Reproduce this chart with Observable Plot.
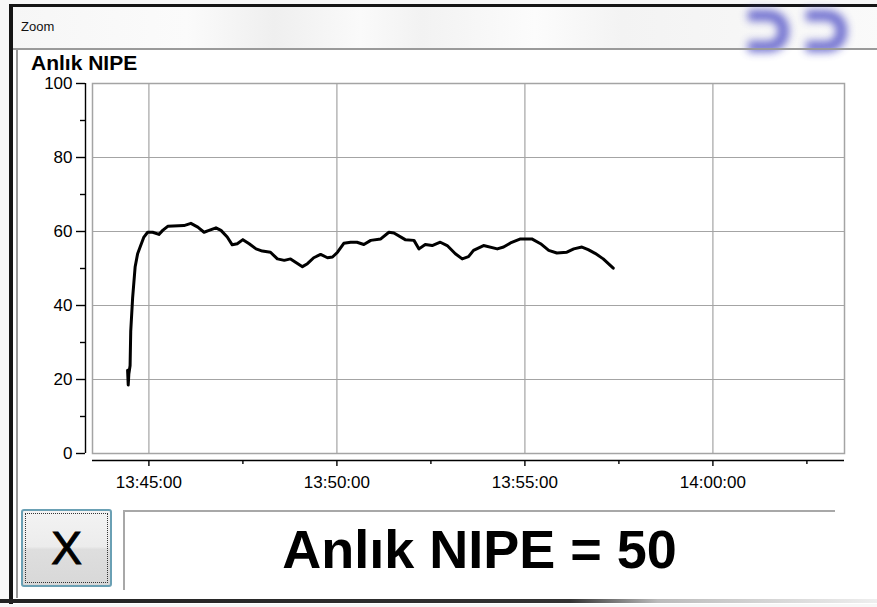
<!DOCTYPE html>
<html>
<head>
<meta charset="utf-8">
<script src="https://cdn.jsdelivr.net/npm/d3@7"></script>
<script src="https://cdn.jsdelivr.net/npm/@observablehq/plot@0.6"></script>
<style>
  html, body { margin: 0; padding: 0; }
  body { width: 877px; height: 607px; position: relative; overflow: hidden; background: #f7f7f7; font-family: Arial, "Liberation Sans", sans-serif; }
  .abs { position: absolute; }
  #win { left: 9px; top: 4px; width: 880px; height: 597px; background: #fff; border-left: 4px solid #151515; border-top: 3px solid #151515; }
  #titlebar { left: 13px; top: 7px; width: 870px; height: 41px;
    background: linear-gradient(90deg, #f6f6f6 0%, #fbfbfb 20%, #efefef 30%, #fafafa 40%, #f2f2f2 47%, #fcfcfc 60%, #f3f3f3 70%, #fafafa 100%); }
  #titleline { left: 13px; top: 48px; width: 870px; height: 2px; background: #9a9a9a; }
  #wintitle { left: 21px; top: 19px; font-size: 13px; color: #111; }
  .logo { width: 30px; height: 20px; border: 11px solid #5656c8; border-left: none; border-radius: 0 20px 20px 0; filter: blur(4px); opacity: 0.85; }
  #leftline { left: 16px; top: 50px; width: 2px; height: 548px; background: #9a9a9a; }
  #bottomline { left: 0px; top: 599px; width: 877px; height: 4px; background: linear-gradient(90deg, #222 0%, #333 65%, #bbb 75%, #eee 100%); }
  #charttitle { left: 31px; top: 52px; font-size: 21px; line-height: 21px; font-weight: bold; color: #000; }
  #btn { left: 21px; top: 509px; width: 87px; height: 74px; border: 2px solid #6aa0b4; border-radius: 3px;
    background: linear-gradient(#f3f3f3 0%, #ececec 48%, #dedede 52%, #d8d8d8 100%); }
  #btninner { left: 2px; top: 2px; right: 2px; bottom: 2px; border: 1px dotted #333; }
  #btnx { left: 0; top: 0; width: 87px; height: 74px; line-height: 74px; text-align: center; font-size: 46px; color: #000; -webkit-text-stroke: 1px #000; }
  #boxtop { left: 124px; top: 510px; width: 711px; height: 2px; background: #a8a8a8; }
  #boxleft { left: 123px; top: 510px; width: 2px; height: 80px; background: #a8a8a8; }
  #readout { left: 124px; top: 518px; width: 711px; text-align: center; font-size: 54px; font-weight: bold; color: #000; line-height: 62px; }
  #chart { left: 0; top: 60px; }
</style>
</head>
<body>
<div id="win" class="abs"></div>
<div id="titlebar" class="abs"></div>
<div class="abs logo" style="left:748px; top:10px;"></div>
<div class="abs logo" style="left:806px; top:10px;"></div>
<div id="titleline" class="abs"></div>
<div id="wintitle" class="abs">Zoom</div>
<div id="leftline" class="abs"></div>
<div id="bottomline" class="abs"></div>
<div id="charttitle" class="abs">Anlık NIPE</div>
<div id="chart" class="abs"></div>
<div id="btn" class="abs"><div id="btninner" class="abs"></div><div id="btnx" class="abs">X</div></div>
<div id="boxtop" class="abs"></div>
<div id="boxleft" class="abs"></div>
<div id="readout" class="abs">Anlık NIPE = 50</div>
<script>
// ---- data ----
const times = [
  "13:44:26","13:44:27","13:44:28","13:44:30","13:44:31","13:44:34","13:44:38","13:44:42","13:44:46","13:44:52",
  "13:44:58","13:45:06","13:45:16","13:45:22","13:45:30","13:45:56","13:46:07","13:46:18","13:46:28","13:46:36",
  "13:46:47","13:46:55","13:47:05","13:47:13","13:47:21","13:47:30","13:47:40","13:47:51","13:48:01","13:48:14",
  "13:48:25","13:48:36","13:48:46","13:48:54","13:49:05","13:49:13","13:49:23","13:49:34","13:49:45","13:49:53",
  "13:50:01","13:50:11","13:50:22","13:50:32","13:50:43","13:50:54","13:51:10","13:51:23","13:51:31","13:51:49",
  "13:52:03","13:52:11","13:52:21","13:52:32","13:52:45","13:52:56","13:53:09","13:53:20","13:53:30","13:53:38",
  "13:53:54","13:54:16","13:54:26","13:54:37","13:54:53","13:55:11","13:55:25","13:55:38","13:55:51","13:56:07",
  "13:56:18","13:56:31","13:56:41","13:56:52","13:57:05","13:57:21"
];
const nipe = [
  22.5, 18.5, 21.5, 23.8, 33.0, 42.0, 50.4, 54.0, 55.8, 58.5,
  59.8, 59.8, 59.2, 60.3, 61.4, 61.6, 62.2, 61.2, 59.8, 60.3,
  61.0, 60.3, 58.5, 56.4, 56.7, 57.8, 56.7, 55.3, 54.7, 54.4,
  52.6, 52.2, 52.6, 51.7, 50.5, 51.3, 52.9, 53.8, 52.9, 53.1,
  54.4, 56.8, 57.1, 57.1, 56.5, 57.6, 58.0, 59.8, 59.6, 57.8,
  57.6, 55.3, 56.5, 56.2, 57.1, 56.2, 54.0, 52.6, 53.2, 54.9,
  56.2, 55.3, 55.8, 56.9, 58.0, 58.0, 56.7, 54.9, 54.2, 54.4,
  55.3, 55.8, 55.1, 54.1, 52.6, 50.1
];
const xDomainLabels = ["13:43:30", "14:03:30"];
const xTickLabels = ["13:45:00", "13:50:00", "13:55:00", "14:00:00"];
const xMinorLabels = ["13:47:30", "13:52:30", "13:57:30", "14:02:30"];
const yDomain = [0, 100];
const yTicks = [0, 20, 40, 60, 80, 100];
const yMinor = [10, 30, 50, 70, 90];
const yGrid = [20, 40, 60, 80];

const parse = d3.timeParse("%H:%M:%S");
const fmt = d3.timeFormat("%H:%M:%S");
const data = times.map((t, i) => ({time: parse(t), value: nipe[i]}));
const xDomain = xDomainLabels.map(parse);
const xTicks = xTickLabels.map(parse);
const xMinor = xMinorLabels.map(parse);
const grid = "#a4a4a4";

const chart = Plot.plot({
  width: 877,
  height: 430,
  marginLeft: 92,
  marginRight: 33,
  marginTop: 23,
  marginBottom: 37,
  x: {type: "time", domain: xDomain},
  y: {domain: yDomain},
  style: {fontFamily: "Arial, 'Liberation Sans', sans-serif", fontSize: "17px", color: "#000", background: "transparent", overflow: "visible"},
  marks: [
    Plot.ruleX(xTicks, {stroke: grid, strokeWidth: 1.2}),
    Plot.ruleY(yGrid, {stroke: grid, strokeWidth: 1.2}),
    Plot.frame({stroke: grid, strokeWidth: 1.5}),
    Plot.line(data, {x: "time", y: "value", stroke: "#000", strokeWidth: 3, strokeLinejoin: "round", strokeLinecap: "round"}),
    Plot.axisY(yTicks, {tickSize: 9, dx: -7, tickPadding: 4, tickFormat: d => String(d), label: null, strokeWidth: 1.4}),
    Plot.axisY(yMinor, {tickSize: 5, dx: -7, fill: "none", label: null, strokeWidth: 1.4}),
    Plot.ruleX([xDomain[0]], {dx: -7, stroke: "#000", strokeWidth: 1.4}),
    Plot.axisX(xTicks, {tickSize: 6, dy: 7, tickPadding: 9, tickFormat: fmt, label: null, strokeWidth: 1.4}),
    Plot.axisX(xMinor, {tickSize: 4, dy: 7, fill: "none", label: null, strokeWidth: 1.4}),
    Plot.ruleY([yDomain[0]], {dy: 7, stroke: "#000", strokeWidth: 1.4})
  ]
});
document.getElementById("chart").appendChild(chart);
</script>
</body>
</html>
